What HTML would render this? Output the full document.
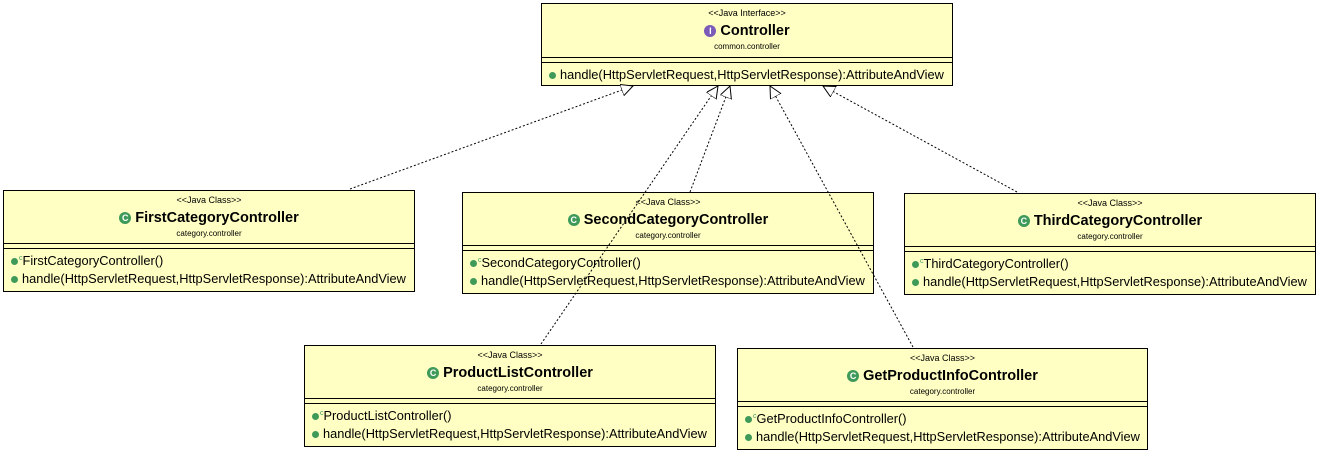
<!DOCTYPE html>
<html><head><style>
body{margin:0;width:1319px;height:452px;background:#fff;position:relative;font-family:"Liberation Sans",Arial,sans-serif;overflow:hidden}
.b{position:absolute;width:410px;background:#ffffc4;border:1px solid #000;box-sizing:border-box;color:#000}
.st{position:absolute;left:0;right:0;text-align:center;font-size:9px;top:4px}
.nm{position:absolute;left:0;right:0;text-align:center;font-size:14.5px;font-weight:bold;top:19px}
.pk{position:absolute;left:0;right:0;text-align:center;font-size:8px;top:38px}
.l1{position:absolute;left:0;right:0;border-top:1px solid #000}
.m{position:absolute;left:7px;font-size:12.8px;white-space:nowrap}
.dot{display:inline-block;width:7px;height:7px;border-radius:50%;background:#3f9a5a;margin-right:4px;vertical-align:0px}
.ic{display:inline-block;width:12px;height:12px;border-radius:50%;background:#3f9a5a;color:#fff;font-size:9px;line-height:12px;text-align:center;margin-right:4px;vertical-align:1px}
.ii{background:#7b5ab8}
sup{font-size:7px;color:#3f9a5a;margin-left:-3px}
svg{z-index:5;pointer-events:none}
</style></head><body>

<div class="b" style="left:541px;top:3px;height:83px;width:412px">
<div class="st">&lt;&lt;Java Interface&gt;&gt;</div>
<div class="nm"><span class="ic ii">I</span>Controller</div>
<div class="pk">common.controller</div>
<div class="l1" style="top:53px"></div><div class="l1" style="top:58px"></div>
<div class="m" style="top:63px"><span class="dot"></span>handle(HttpServletRequest,HttpServletResponse):AttributeAndView</div>
</div>

<div class="b" style="left:3px;top:190px;height:102px;width:412px">
<div class="st">&lt;&lt;Java Class&gt;&gt;</div>
<div class="nm"><span class="ic">C</span>FirstCategoryController</div>
<div class="pk">category.controller</div>
<div class="l1" style="top:52px"></div><div class="l1" style="top:57px"></div>
<div class="m" style="top:62px"><span class="dot"></span><sup>c</sup>FirstCategoryController()</div>
<div class="m" style="top:80px"><span class="dot"></span>handle(HttpServletRequest,HttpServletResponse):AttributeAndView</div>
</div>

<div class="b" style="left:462px;top:192px;height:102px;width:412px">
<div class="st">&lt;&lt;Java Class&gt;&gt;</div>
<div class="nm"><span class="ic">C</span>SecondCategoryController</div>
<div class="pk">category.controller</div>
<div class="l1" style="top:52px"></div><div class="l1" style="top:57px"></div>
<div class="m" style="top:62px"><span class="dot"></span><sup>c</sup>SecondCategoryController()</div>
<div class="m" style="top:80px"><span class="dot"></span>handle(HttpServletRequest,HttpServletResponse):AttributeAndView</div>
</div>

<div class="b" style="left:904px;top:193px;height:102px;width:412px">
<div class="st">&lt;&lt;Java Class&gt;&gt;</div>
<div class="nm"><span class="ic">C</span>ThirdCategoryController</div>
<div class="pk">category.controller</div>
<div class="l1" style="top:52px"></div><div class="l1" style="top:57px"></div>
<div class="m" style="top:62px"><span class="dot"></span><sup>c</sup>ThirdCategoryController()</div>
<div class="m" style="top:80px"><span class="dot"></span>handle(HttpServletRequest,HttpServletResponse):AttributeAndView</div>
</div>

<div class="b" style="left:304px;top:345px;height:102px;width:412px">
<div class="st">&lt;&lt;Java Class&gt;&gt;</div>
<div class="nm"><span class="ic">C</span>ProductListController</div>
<div class="pk">category.controller</div>
<div class="l1" style="top:52px"></div><div class="l1" style="top:57px"></div>
<div class="m" style="top:62px"><span class="dot"></span><sup>c</sup>ProductListController()</div>
<div class="m" style="top:80px"><span class="dot"></span>handle(HttpServletRequest,HttpServletResponse):AttributeAndView</div>
</div>

<div class="b" style="left:737px;top:348px;height:102px;width:411px">
<div class="st">&lt;&lt;Java Class&gt;&gt;</div>
<div class="nm"><span class="ic">C</span>GetProductInfoController</div>
<div class="pk">category.controller</div>
<div class="l1" style="top:52px"></div><div class="l1" style="top:57px"></div>
<div class="m" style="top:62px"><span class="dot"></span><sup>c</sup>GetProductInfoController()</div>
<div class="m" style="top:80px"><span class="dot"></span>handle(HttpServletRequest,HttpServletResponse):AttributeAndView</div>
</div>

<svg width="1319" height="452" style="position:absolute;left:0;top:0">
<defs><marker id="a" markerWidth="14" markerHeight="14" refX="12" refY="6" orient="auto" markerUnits="userSpaceOnUse"><path d="M0,0 L12,6 L0,12 Z" fill="#fff" stroke="#000" stroke-width="1"/></marker></defs>
<g stroke="#000" stroke-dasharray="2,2" fill="none" stroke-width="1">
<line x1="350" y1="189" x2="633" y2="86" marker-end="url(#a)"/>
<line x1="541" y1="344" x2="718" y2="86" marker-end="url(#a)"/>
<line x1="690" y1="192" x2="730" y2="86" marker-end="url(#a)"/>
<line x1="913" y1="347" x2="770" y2="86" marker-end="url(#a)"/>
<line x1="1017" y1="192" x2="823" y2="86" marker-end="url(#a)"/>
</g></svg>
</body></html>
